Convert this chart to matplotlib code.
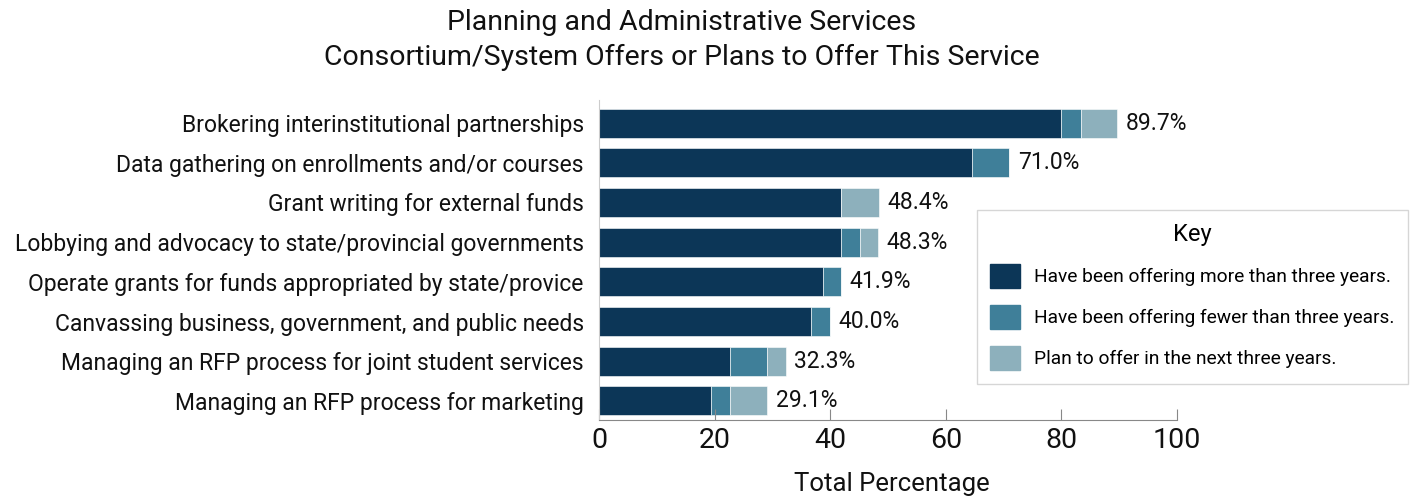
import matplotlib
matplotlib.use("Agg")
import matplotlib.pyplot as plt
from matplotlib.patches import Patch

plt.rcParams['font.family'] = ['Roboto', 'DejaVu Sans']

categories = [
    "Brokering interinstitutional partnerships",
    "Data gathering on enrollments and/or courses",
    "Grant writing for external funds",
    "Lobbying and advocacy to state/provincial governments",
    "Operate grants for funds appropriated by state/provice",
    "Canvassing business, government, and public needs",
    "Managing an RFP process for joint student services",
    "Managing an RFP process for marketing",
]
more_than_three = [80.0, 64.6, 41.9, 41.9, 38.7, 36.7, 22.6, 19.4]
fewer_than_three = [3.4, 6.4, 0.0, 3.2, 3.2, 3.3, 6.4, 3.2]
plan_next_three = [6.3, 0.0, 6.5, 3.2, 0.0, 0.0, 3.3, 6.5]
totals = [89.7, 71.0, 48.4, 48.3, 41.9, 40.0, 32.3, 29.1]

series_labels = [
    "Have been offering more than three years.",
    "Have been offering fewer than three years.",
    "Plan to offer in the next three years.",
]
colors = ["#0c3657", "#3f7f99", "#8db0bc"]

W, H = 1410, 497
fig = plt.figure(figsize=(W / 100, H / 100), dpi=100)
ax = fig.add_axes([599 / W, 1 - 420 / H, 578 / W, 320 / H])

y = list(range(len(categories)))
left = [0.0] * len(categories)
for vals, col in zip([more_than_three, fewer_than_three, plan_next_three], colors):
    ax.barh(y, vals, left=left, height=0.73, color=col, edgecolor="white", linewidth=0.4)
    left = [l + v for l, v in zip(left, vals)]

for yi, t in zip(y, totals):
    ax.text(t + 1.5, yi, f"{t:.1f}%", va="center", ha="left", fontsize=16.5, color="#111111")

ax.set_xlim(0, 100)
ax.set_ylim(7.48, -0.58)
ax.set_yticks(y)
ax.set_yticklabels(categories, fontsize=16.5, color="#111111")
ax.tick_params(axis="y", length=0, pad=11)
ax.set_xticks([0, 20, 40, 60, 80, 100])
ax.tick_params(axis="x", direction="in", length=8, width=0.8, color="#888888",
               labelsize=20.5, pad=5, labelcolor="#111111")

for side in ["top", "right"]:
    ax.spines[side].set_visible(False)
ax.spines["left"].set_color("#cccccc")
ax.spines["bottom"].set_color("#888888")
ax.spines["bottom"].set_linewidth(0.8)

fig.text(892 / W, 1 - 484 / H, "Total Percentage", ha="center", va="center",
         fontsize=18.5, color="#111111")

fig.text(682 / W, 1 - 40 / H,
         "Planning and Administrative Services\nConsortium/System Offers or Plans to Offer This Service",
         ha="center", va="center", fontsize=20.5, color="#111111", linespacing=1.4)

handles = [Patch(facecolor=c, edgecolor=c) for c in colors]
leg = fig.legend(handles, series_labels, title="Key", loc="upper left",
                 bbox_to_anchor=(977 / W, 1 - 210 / H), borderaxespad=0,
                 fontsize=13.8, title_fontsize=17, frameon=True, fancybox=False,
                 edgecolor="#cccccc", handlelength=1.55, handleheight=1.55,
                 borderpad=0.7, labelspacing=0.9, handletextpad=0.75)
leg.get_frame().set_linewidth(1.0)

fig.savefig("out.png", dpi=100, facecolor="white")
